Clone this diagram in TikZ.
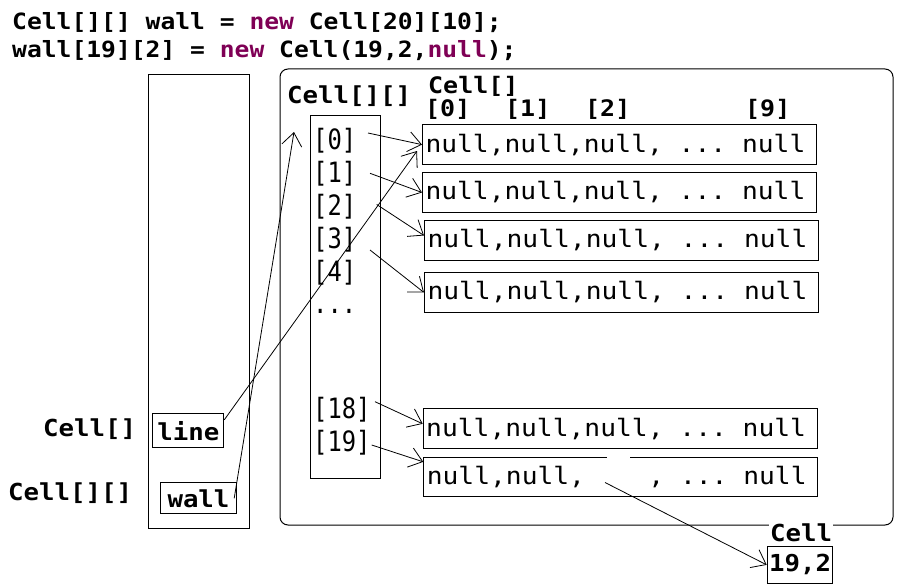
\documentclass[tikz,border=0pt]{standalone}
\usepackage{fontspec}
\usetikzlibrary{arrows.meta}
\newfontfamily\mono[FakeStretch=1.1]{DejaVu Sans Mono}
\newfontfamily\monotall[FakeStretch=0.85]{DejaVu Sans Mono}
\definecolor{kw}{HTML}{7F0055}
% one character cell of blank space in the current monospaced font
\newcommand\blank{\phantom{x}}

\begin{document}
\begin{tikzpicture}[x=1pt,y=-1pt,
  box/.style={draw, line width=1pt, inner sep=0pt},
  ptr/.style={-{Straight Barb[length=13pt,width=20pt]}, line width=0.8pt},
  code/.style={anchor=base west, inner sep=0pt, font=\mono\bfseries\fontsize{22.4}{26}\selectfont},
  tag/.style={anchor=base west, inner sep=0pt, font=\mono\bfseries\fontsize{23.4}{27}\selectfont},
  hdr/.style={anchor=base west, inner sep=0pt, font=\mono\bfseries\fontsize{22.7}{26}\selectfont},
  idxlbl/.style={anchor=base west, inner sep=0pt, font=\monotall\fontsize{28}{32}\selectfont},
  rowbox/.style={box, anchor=north west, inner xsep=3pt, text width=388pt, align=left,
                 font=\mono\fontsize{23.9}{28}\selectfont},
]
\useasboundingbox (0,0) rectangle (913,586);

% source lines
\node[code] (code1) at (12,29.5) {Cell[][]\blank wall\blank =\blank \textcolor{kw}{new}\blank Cell[20][10];};
\node[code] (code2) at (12,57.5) {wall[19][2]\blank =\blank \textcolor{kw}{new}\blank Cell(19,2,\textcolor{kw}{null});};

% stack frame with the two local variables
\node[box, minimum width=101pt, minimum height=453.5pt, anchor=north west] (stack) at (147.5,74) {};
\node[tag] (lblline) at (43,436.7) {Cell[]};
\node[tag] (lblwall) at (8,500.7) {Cell[][]};
\node[box, minimum width=71pt, minimum height=34pt, anchor=north west,
      font=\mono\bfseries\fontsize{23.4}{27}\selectfont] (line) at (152.3,413.3) {line};
\node[box, minimum width=75.4pt, minimum height=31pt, anchor=north west,
      font=\mono\bfseries\fontsize{23.4}{27}\selectfont] (wall) at (160.3,482.3) {wall};

% heap
\node[box, rounded corners=8pt, minimum width=613pt, minimum height=456pt, anchor=north west] (heap) at (279.5,68.5) {};
\node[tag] (lblidx) at (287,103.3) {Cell[][]};
\node[hdr] (lblrow) at (428,93) {Cell[]};
\node[hdr] (c0) at (425,117) {[0]};
\node[hdr] (c1) at (505,117) {[1]};
\node[hdr] (c2) at (585,117) {[2]};
\node[hdr] (c9) at (745,117) {[9]};

% outer array
\node[box, minimum width=70.5pt, minimum height=363pt, anchor=north west] (idx) at (309.5,114.5) {};
\node[idxlbl] (i0) at (313,149.5) {[0]};
\node[idxlbl] (i1) at (313,182) {[1]};
\node[idxlbl] (i2) at (313,215) {[2]};
\node[idxlbl] (i3) at (313,248) {[3]};
\node[idxlbl] (i4) at (313,281) {[4]};
\node[idxlbl] (idots) at (313,313) {...};
\node[idxlbl] (i18) at (313,418) {[18]};
\node[idxlbl] (i19) at (313,451) {[19]};

% inner arrays
\node[rowbox, minimum height=39.7pt] (r0) at (422,124.3) {null,null,null,\blank...\blank null};
\node[rowbox, minimum height=39.4pt] (r1) at (422,172.3) {null,null,null,\blank...\blank null};
\node[rowbox, minimum height=40pt] (r2) at (424,220) {null,null,null,\blank...\blank null};
\node[rowbox, minimum height=39.4pt] (r3) at (424,272.3) {null,null,null,\blank...\blank null};
\node[rowbox, minimum height=40pt] (r18) at (422.7,408.3) {null,null,null,\blank...\blank null};
\node[rowbox, minimum height=39.3pt] (r19) at (423.3,456.7) {null,null,\phantom{null},\blank...\blank null};
\fill[white] (606.7,454.5) rectangle (630,458.8);

% the single cell object
\node[box, minimum width=65.6pt, minimum height=36.7pt, anchor=north west,
      font=\mono\bfseries\fontsize{23.4}{27}\selectfont] (cell) at (766.7,546) {19,2};
\node[tag, fill=white, inner xsep=1pt, inner ysep=2.5pt] (lblcell) at (769,541.7) {Cell};

% references
\coordinate (t0) at (368,133);
\coordinate (t1) at (370,173.3);
\coordinate (t2) at (376.7,204.5);
\coordinate (t3) at (370,250);
\coordinate (t18) at (375,401.7);
\coordinate (t19) at (371.7,445);
\coordinate (tcell) at (605,482.5);
\coordinate (hline) at (417,151);
\coordinate (hwall) at (294,132);

\draw[ptr] (t0) -- (r0.west);
\draw[ptr] (t1) -- (r1.west);
\draw[ptr] (t2) -- ([yshift=5pt]r2.west);
\draw[ptr] (t3) -- (r3.west);
\draw[ptr] (t18) -- ([yshift=5pt]r18.west);
\draw[ptr] (t19) -- ([yshift=15pt]r19.west);
\draw[ptr] (tcell) -- (cell.west);
\draw[ptr] ([yshift=11pt]line.east) -- (hline);
\draw[ptr] ([xshift=-2.5pt]wall.east) -- (hwall);
\end{tikzpicture}
\end{document}
